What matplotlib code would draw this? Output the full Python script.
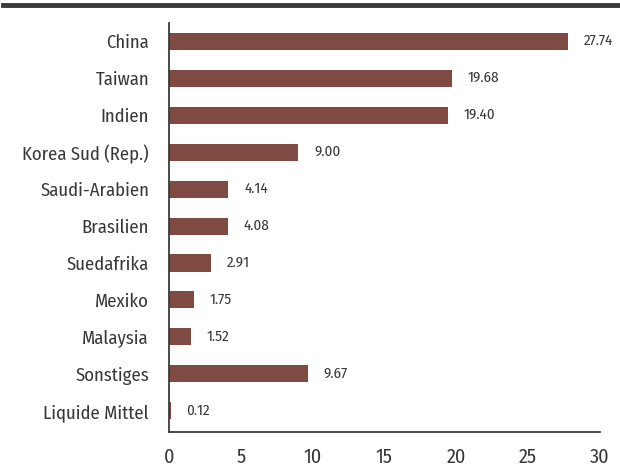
import matplotlib
matplotlib.use("Agg")
import matplotlib.pyplot as plt
from matplotlib.lines import Line2D

# data
categories = ["China", "Taiwan", "Indien", "Korea Sud (Rep.)", "Saudi-Arabien", "Brasilien",
              "Suedafrika", "Mexiko", "Malaysia", "Sonstiges", "Liquide Mittel"]
values = [27.74, 19.68, 19.40, 9.00, 4.14, 4.08, 2.91, 1.75, 1.52, 9.67, 0.12]
xticks = [0, 5, 10, 15, 20, 25, 30]

bar_color = "#7f4a42"
dark = "#3a3a3a"
text_color = "#383838"
plt.rcParams["font.family"] = ["Fira Sans Condensed", "DejaVu Sans"]

fig = plt.figure(figsize=(6.2, 4.7), dpi=100)
ax = fig.add_axes([169 / 620, 1 - 432 / 470, (600 - 169) / 620, (432 - 23) / 470])

pos = list(range(len(categories) - 1, -1, -1))
ax.barh(pos, values, height=0.46, color=bar_color)
for p, v in zip(pos, values):
    ax.text(v + 1.1, p, f"{v:.2f}", va="center", ha="left", fontsize=10.8, color=text_color)

ax.set_xlim(0, 30)
ax.set_ylim(-0.57, 10.49)
ax.set_yticks(pos)
ax.set_yticklabels(categories, fontsize=13.4, color=text_color)
ax.set_xticks(xticks)
ax.set_xticklabels([str(t) for t in xticks], fontsize=14.5, color=text_color)
ax.tick_params(axis="y", length=0, pad=14.4)
ax.tick_params(axis="x", length=0, pad=11)

for s in ["top", "right"]:
    ax.spines[s].set_visible(False)
for s in ["left", "bottom"]:
    ax.spines[s].set_color(dark)
    ax.spines[s].set_linewidth(1.3)

# thick rule across the top
fig.add_artist(Line2D([3 / 620, 1], [1 - 5 / 470, 1 - 5 / 470], color=dark, linewidth=3.5,
                      transform=fig.transFigure))

fig.savefig("out.png", dpi=100)
